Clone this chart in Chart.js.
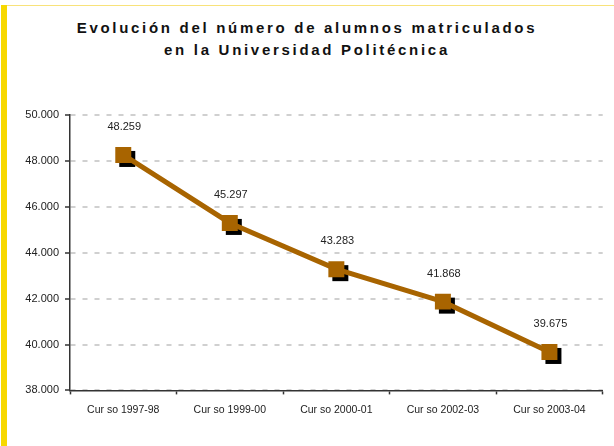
<!DOCTYPE html>
<html>
<head>
<meta charset="utf-8">
<script src="https://cdn.jsdelivr.net/npm/chart.js@4/dist/chart.umd.min.js"></script>
<style>
  html, body { margin: 0; padding: 0; background: #fff; }
  #frame {
    position: relative;
    width: 614px; height: 446px;
    overflow: hidden;
  }
  #bar { position: absolute; left: 1px; top: 5px; width: 6px; height: 441px; background: #f7d800; }
  #topline { position: absolute; left: 7px; top: 5px; width: 607px; height: 1px; background: #f8e27a; }
  #title {
    position: absolute; left: 0; top: 17px; width: 614px;
    text-align: center;
    font: bold 15px "Liberation Sans", Arial, sans-serif;
    letter-spacing: 2.7px;
    line-height: 22px;
    color: #111;
  }
  #chart { position: absolute; left: 0; top: 0; }
</style>
</head>
<body>
<div id="frame">
  <div id="bar"></div>
  <div id="topline"></div>
  <div id="title">Evolución del número de alumnos matriculados<br>en la Universidad Politécnica</div>
  <canvas id="chart" width="614" height="446"></canvas>
</div>
<script>
// values
const cursos = ["Cur so 1997-98", "Cur so 1999-00", "Cur so 2000-01", "Cur so 2002-03", "Cur so 2003-04"];
const alumnos = [48259, 45297, 43283, 41868, 39675];
const yMin = 38000;
const yMax = 50000;
const yStep = 2000;

const brown = "rgb(168,100,0)";

// 48259 -> "48.259"
function miles(v) {
  return String(Math.round(v)).replace(/\B(?=(\d{3})+(?!\d))/g, ".");
}

// black drop shadow under each square marker
const shadowPlugin = {
  id: "markerShadow",
  beforeDatasetsDraw(chart) {
    const ctx = chart.ctx;
    const meta = chart.getDatasetMeta(0);
    ctx.save();
    ctx.fillStyle = "#000";
    meta.data.forEach(pt => {
      ctx.fillRect(pt.x - 8 + 4, pt.y - 8 + 4, 16, 16);
    });
    ctx.restore();
  }
};

// value labels above the points
const labelPlugin = {
  id: "valueLabels",
  afterDatasetsDraw(chart) {
    const ctx = chart.ctx;
    const meta = chart.getDatasetMeta(0);
    ctx.save();
    ctx.font = "11px 'Liberation Sans', Arial, sans-serif";
    ctx.fillStyle = "#222";
    ctx.textAlign = "center";
    ctx.textBaseline = "middle";
    meta.data.forEach((pt, i) => {
      ctx.fillText(miles(alumnos[i]), pt.x + 1, pt.y - 28);
    });
    ctx.restore();
  }
};

new Chart(document.getElementById("chart"), {
  type: "line",
  data: {
    labels: cursos,
    datasets: [{
      data: alumnos,
      borderColor: brown,
      borderWidth: 5,
      pointStyle: "rect",
      pointRadius: 11.3,
      pointBackgroundColor: brown,
      pointBorderWidth: 0,
      tension: 0
    }]
  },
  options: {
    responsive: false,
    animation: false,
    layout: { padding: { left: 0, right: 9, top: 115, bottom: 21 } },
    plugins: {
      legend: { display: false },
      tooltip: { enabled: false },
      title: { display: false }
    },
    scales: {
      x: {
        offset: true,
        grid: {
          display: true,
          drawOnChartArea: false,
          offset: true,
          color: "#333",
          tickLength: 4,
          tickWidth: 1.5
        },
        border: { color: "#333", width: 1.5 },
        ticks: {
          color: "#222",
          font: { family: "'Liberation Sans', Arial, sans-serif", size: 10.5 },
          padding: 9,
          maxRotation: 0
        }
      },
      y: {
        min: yMin,
        max: yMax,
        afterFit(scale) { scale.width = 70; },
        grid: {
          color: "#d0d0d0",
          lineWidth: 2,
          tickColor: "#333",
          tickLength: 5,
          tickWidth: 1.5,
          tickBorderDash: [0, 0]
        },
        border: { color: "#333", width: 1.5, dash: [5, 7] },
        ticks: {
          stepSize: yStep,
          color: "#222",
          font: { family: "'Liberation Sans', Arial, sans-serif", size: 11 },
          padding: 6,
          callback: v => miles(v)
        }
      }
    }
  },
  plugins: [shadowPlugin, labelPlugin]
});
</script>
</body>
</html>
